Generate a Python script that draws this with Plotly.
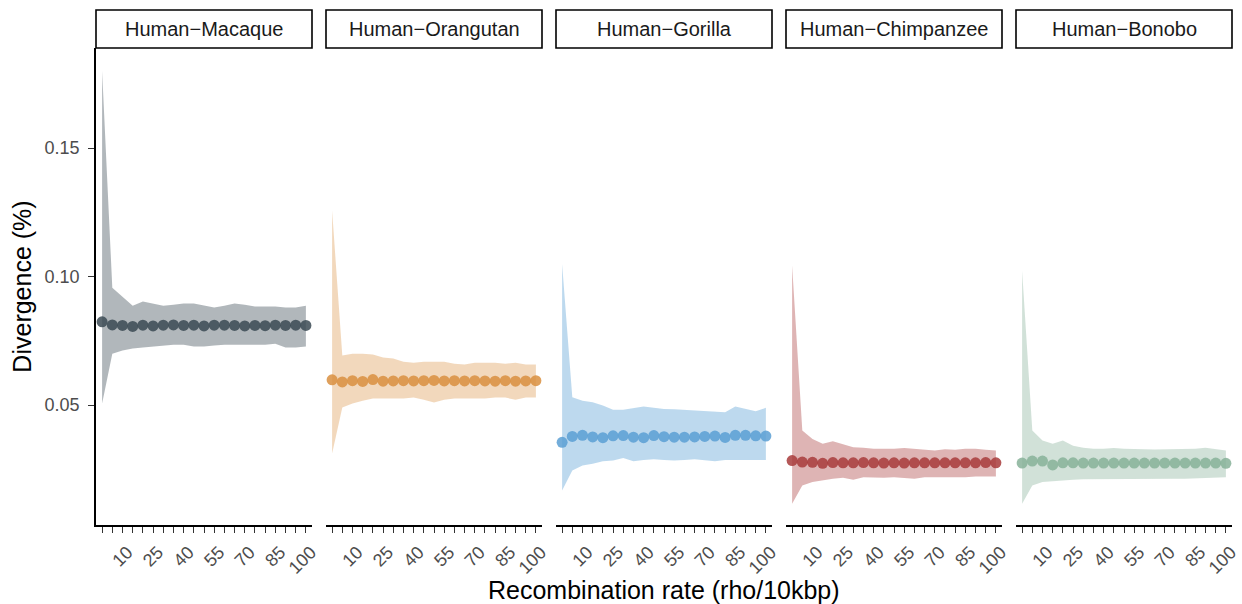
import plotly.graph_objects as go

# ---------------- data ----------------
rho = list(range(0, 101, 5))  # recombination rate bins (rho/10kbp)
tick_labels = ["10", "25", "40", "55", "70", "85", "100"]

pairs = ["Human−Macaque", "Human−Orangutan", "Human−Gorilla", "Human−Chimpanzee", "Human−Bonobo"]

macaque_mean = [0.0824, 0.0812, 0.0810, 0.0806, 0.0811, 0.0808, 0.0811, 0.0812, 0.0810, 0.0811, 0.0808,
                0.0811, 0.0811, 0.0810, 0.0808, 0.0810, 0.0809, 0.0811, 0.0810, 0.0811, 0.0810]
macaque_upper = [0.1800, 0.0957, 0.0922, 0.0887, 0.0903, 0.0895, 0.0887, 0.0890, 0.0895, 0.0895, 0.0887,
                 0.0880, 0.0887, 0.0895, 0.0890, 0.0884, 0.0884, 0.0884, 0.0880, 0.0880, 0.0887]
macaque_lower = [0.0506, 0.0700, 0.0712, 0.0720, 0.0724, 0.0728, 0.0732, 0.0735, 0.0735, 0.0728, 0.0728,
                 0.0732, 0.0735, 0.0735, 0.0735, 0.0735, 0.0735, 0.0739, 0.0724, 0.0724, 0.0728]

orangutan_mean = [0.0598, 0.0590, 0.0595, 0.0592, 0.0599, 0.0593, 0.0594, 0.0595, 0.0594, 0.0595, 0.0596,
                  0.0594, 0.0595, 0.0594, 0.0595, 0.0594, 0.0593, 0.0595, 0.0593, 0.0594, 0.0595]
orangutan_upper = [0.1257, 0.0693, 0.0700, 0.0700, 0.0697, 0.0685, 0.0681, 0.0669, 0.0665, 0.0669, 0.0669,
                   0.0669, 0.0661, 0.0658, 0.0665, 0.0665, 0.0665, 0.0661, 0.0665, 0.0658, 0.0658]
orangutan_lower = [0.0311, 0.0490, 0.0506, 0.0517, 0.0525, 0.0525, 0.0525, 0.0525, 0.0529, 0.0521, 0.0510,
                   0.0521, 0.0525, 0.0525, 0.0525, 0.0525, 0.0529, 0.0529, 0.0521, 0.0529, 0.0529]

gorilla_mean = [0.0355, 0.0378, 0.0382, 0.0376, 0.0373, 0.0380, 0.0381, 0.0375, 0.0373, 0.0381, 0.0377,
                0.0375, 0.0375, 0.0376, 0.0378, 0.0379, 0.0374, 0.0382, 0.0382, 0.0380, 0.0379]
gorilla_upper = [0.1049, 0.0530, 0.0517, 0.0511, 0.0498, 0.0482, 0.0482, 0.0489, 0.0494, 0.0489, 0.0485,
                 0.0484, 0.0482, 0.0479, 0.0476, 0.0474, 0.0472, 0.0494, 0.0486, 0.0476, 0.0489]
gorilla_lower = [0.0167, 0.0245, 0.0265, 0.0271, 0.0281, 0.0284, 0.0294, 0.0281, 0.0286, 0.0289, 0.0286,
                 0.0284, 0.0286, 0.0289, 0.0286, 0.0281, 0.0286, 0.0286, 0.0286, 0.0286, 0.0286]

chimp_mean = [0.0284, 0.0278, 0.0277, 0.0273, 0.0276, 0.0275, 0.0275, 0.0276, 0.0275, 0.0274, 0.0275,
              0.0274, 0.0275, 0.0275, 0.0275, 0.0275, 0.0275, 0.0275, 0.0275, 0.0276, 0.0275]
chimp_upper = [0.1043, 0.0401, 0.0368, 0.0349, 0.0359, 0.0349, 0.0336, 0.0334, 0.0330, 0.0330, 0.0330,
               0.0333, 0.0330, 0.0327, 0.0323, 0.0328, 0.0326, 0.0330, 0.0330, 0.0326, 0.0323]
chimp_lower = [0.0116, 0.0187, 0.0200, 0.0206, 0.0213, 0.0217, 0.0209, 0.0219, 0.0219, 0.0217, 0.0219,
               0.0217, 0.0213, 0.0219, 0.0219, 0.0219, 0.0219, 0.0219, 0.0222, 0.0222, 0.0222]

bonobo_mean = [0.0274, 0.0282, 0.0282, 0.0267, 0.0275, 0.0275, 0.0274, 0.0274, 0.0274, 0.0274, 0.0274,
               0.0274, 0.0274, 0.0274, 0.0274, 0.0274, 0.0274, 0.0274, 0.0274, 0.0274, 0.0273]
bonobo_upper = [0.1023, 0.0401, 0.0362, 0.0349, 0.0362, 0.0342, 0.0334, 0.0330, 0.0330, 0.0333, 0.0330,
                0.0330, 0.0328, 0.0327, 0.0328, 0.0330, 0.0330, 0.0330, 0.0334, 0.0328, 0.0323]
bonobo_lower = [0.0116, 0.0187, 0.0200, 0.0204, 0.0206, 0.0209, 0.0211, 0.0213, 0.0213, 0.0213, 0.0213,
                0.0213, 0.0213, 0.0213, 0.0213, 0.0213, 0.0213, 0.0215, 0.0215, 0.0217, 0.0219]

means = [macaque_mean, orangutan_mean, gorilla_mean, chimp_mean, bonobo_mean]
uppers = [macaque_upper, orangutan_upper, gorilla_upper, chimp_upper, bonobo_upper]
lowers = [macaque_lower, orangutan_lower, gorilla_lower, chimp_lower, bonobo_lower]

point_colors = ["#3b4a54", "#d98f40", "#5a9fd4", "#a83b3b", "#87b199"]
ribbon_colors = ["rgba(59,74,84,0.40)", "rgba(217,143,64,0.35)", "rgba(90,159,212,0.40)",
                 "rgba(168,59,59,0.38)", "rgba(135,177,153,0.38)"]

# ---------------- layout geometry ----------------
W, H = 1242, 604
ml, mr, mt, mb = 96, 10, 10, 79
pw = W - ml - mr
ph = H - mt - mb
panel_w = 216
gap = 14
plot_top = (525 - 48) / ph  # fraction of plot area for panels (rest is strip)
FONT = "Liberation Sans, Arial"

fig = go.Figure()

tickvals = rho
ticktext = [str(v) if str(v) in tick_labels else "" for v in rho]

for i in range(5):
    xa = "x" if i == 0 else f"x{i+1}"
    ya = "y" if i == 0 else f"y{i+1}"
    fig.add_trace(go.Scatter(
        x=rho + rho[::-1], y=uppers[i] + lowers[i][::-1],
        fill="toself", fillcolor=ribbon_colors[i], line=dict(width=0),
        mode="lines", hoverinfo="skip", showlegend=False, xaxis=xa, yaxis=ya))
    fig.add_trace(go.Scatter(
        x=rho, y=means[i], mode="markers",
        marker=dict(size=11, color=point_colors[i], opacity=0.85, line=dict(width=0)),
        showlegend=False, xaxis=xa, yaxis=ya))

    d0 = i * (panel_w + gap) / pw
    d1 = (i * (panel_w + gap) + panel_w) / pw
    xkey = "xaxis" if i == 0 else f"xaxis{i+1}"
    ykey = "yaxis" if i == 0 else f"yaxis{i+1}"
    fig.layout[xkey] = dict(
        domain=[d0, d1], anchor=ya, range=[-3, 103], automargin=False,
        showline=True, linecolor="black", linewidth=1.5,
        ticks="outside", ticklen=6, tickwidth=1.1, tickcolor="#333333",
        tickvals=tickvals, ticktext=ticktext, tickangle=-45,
        ticklabelshift=5, ticklabelstandoff=2,
        tickfont=dict(family=FONT, size=18, color="#4d4d4d"),
        showgrid=False, zeroline=False)
    ydict = dict(domain=[0, plot_top], anchor=xa, range=[0.0033, 0.189],
                 showgrid=False, zeroline=False, automargin=False)
    if i == 0:
        ydict.update(showline=True, linecolor="black", linewidth=1.5,
                     ticks="outside", ticklen=6, tickwidth=1.1, tickcolor="#333333",
                     tickvals=[0.05, 0.10, 0.15], tickformat=".2f", ticklabelstandoff=5,
                     tickfont=dict(family=FONT, size=18, color="#4d4d4d"),
                     title=dict(text="Divergence (%)", standoff=6,
                                font=dict(family=FONT, size=25, color="black")))
    else:
        ydict.update(matches="y", showline=False, showticklabels=False, ticks="")
    fig.layout[ykey] = ydict

    # strip box + label
    fig.add_shape(type="rect", xref="paper", yref="paper",
                  x0=d0, x1=d1, y0=plot_top, y1=1.0,
                  line=dict(color="black", width=1.6), fillcolor="white")
    fig.add_annotation(x=(d0 + d1) / 2, y=(plot_top + 1.0) / 2, xref="paper", yref="paper",
                       xanchor="center", yanchor="middle",
                       text=pairs[i], showarrow=False,
                       font=dict(family=FONT, size=20, color="#1a1a1a"))

fig.add_annotation(x=0.5, y=-(590 - 525) / ph, xref="paper", yref="paper",
                   xanchor="center", yanchor="middle",
                   text="Recombination rate (rho/10kbp)", showarrow=False,
                   font=dict(family=FONT, size=25, color="black"))

fig.update_layout(width=W, height=H, margin=dict(l=ml, r=mr, t=mt, b=mb, autoexpand=False),
                  paper_bgcolor="white", plot_bgcolor="white", showlegend=False)

fig.write_html("out.html", config={"displayModeBar": False},
               post_script="document.body.style.margin='0';")
